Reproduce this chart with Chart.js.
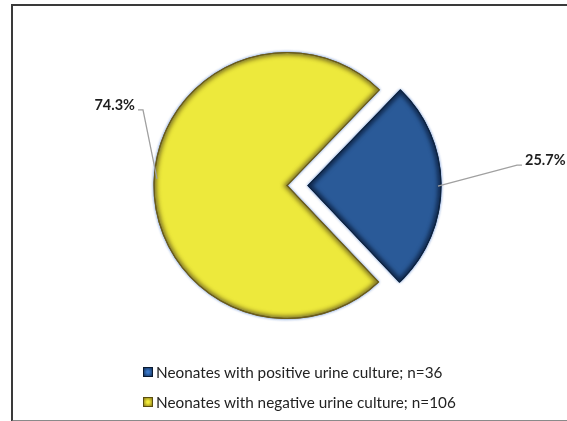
<!DOCTYPE html>
<html>
<head>
<meta charset="utf-8">
<script src="https://cdn.jsdelivr.net/npm/chart.js@4/dist/chart.umd.min.js"></script>
<style>
  html, body { margin: 0; padding: 0; background: #fff; }
  #wrap { position: relative; width: 567px; height: 421px; overflow: hidden; }
  #frame {
    position: absolute; left: 11px; top: 4px; width: 600px; height: 414px;
    border-left: 2px solid #3a3a3a; border-top: 2px solid #3a3a3a; border-bottom: 2px solid #8a8a8a;
    pointer-events: none;
  }
  canvas { position: absolute; left: 0; top: 0; }
  #legend {
    position: absolute; left: 143px; top: 357px;
    font-family: Lato, "Open Sans", sans-serif; font-size: 15.3px; color: #222;
  }
  .item { display: flex; align-items: center; height: 30px; }
  .swatch { width: 10px; height: 10px; margin-right: 3px; box-sizing: border-box; border: 1px solid; }
</style>
</head>
<body>
<div id="wrap">
  <canvas id="c" width="567" height="421"></canvas>
  <div id="frame"></div>
  <div id="legend"></div>
</div>
<script>
// Share of each group (percent) and group sizes
const groups = ['Neonates with positive urine culture', 'Neonates with negative urine culture'];
const counts = [36, 106];
const shares = [25.7, 74.3];
const pctLabels = ['25.7%', '74.3%'];

const fills = ['#2a5a98', '#ede93c'];
const edges = ['#0e2440', '#6b5c1c'];

// Legend rows
const legend = document.getElementById('legend');
groups.forEach((g, i) => {
  const row = document.createElement('div');
  row.className = 'item';
  const sw = document.createElement('span');
  sw.className = 'swatch';
  sw.style.background = i === 0
    ? 'radial-gradient(circle, #3b78c8 20%, #12305a 100%)'
    : 'radial-gradient(circle, #f2ec3a 20%, #8a7a18 100%)';
  sw.style.borderColor = i === 0 ? '#0b1a30' : '#5a4e10';
  row.appendChild(sw);
  const t = document.createElement('span');
  t.textContent = g + '; n=' + counts[i];
  row.appendChild(t);
  legend.appendChild(row);
});

function sectorPath(ctx, arc) {
  const off = (arc.options.offset || 0) / 4;
  const mid = (arc.startAngle + arc.endAngle) / 2;
  const cx = arc.x + Math.cos(mid) * off;
  const cy = arc.y + Math.sin(mid) * off;
  ctx.beginPath();
  ctx.moveTo(cx, cy);
  ctx.arc(cx, cy, arc.outerRadius, arc.startAngle, arc.endAngle);
  ctx.closePath();
  return { cx, cy, mid };
}

// Soft outer glow while the slices are painted, then an inner bevel
const glow = {
  id: 'glow',
  beforeDatasetsDraw(chart) {
    const ctx = chart.ctx;
    ctx.save();
    ctx.shadowColor = 'rgba(60,110,200,0.85)';
    ctx.shadowBlur = 3;
  },
  afterDatasetsDraw(chart) {
    const ctx = chart.ctx;
    ctx.restore();
    const arcs = chart.getDatasetMeta(0).data;
    arcs.forEach((arc, i) => {
      ctx.save();
      sectorPath(ctx, arc);
      ctx.clip();
      ctx.filter = 'blur(2px)';
      ctx.lineWidth = 6;
      ctx.strokeStyle = i === 0 ? 'rgba(5,20,45,0.75)' : 'rgba(90,70,10,0.6)';
      sectorPath(ctx, arc);
      ctx.stroke();
      ctx.restore();
      ctx.save();
      ctx.lineWidth = 1.2;
      ctx.strokeStyle = edges[i];
      sectorPath(ctx, arc);
      ctx.stroke();
      ctx.restore();
    });
  }
};

// Percentage labels with leader lines
const leaders = [
  { dx: 79, dy: -21, side: 1 },
  { dx: -14, dy: -69, side: -1 }
];
const pctLabelPlugin = {
  id: 'pctLabels',
  afterDraw(chart) {
    const ctx = chart.ctx;
    const arcs = chart.getDatasetMeta(0).data;
    arcs.forEach((arc, i) => {
      const off = (arc.options.offset || 0) / 4;
      const mid = (arc.startAngle + arc.endAngle) / 2;
      const ex = arc.x + Math.cos(mid) * (off + arc.outerRadius - 3);
      const ey = arc.y + Math.sin(mid) * (off + arc.outerRadius - 3) - (i === 1 ? 6 : 0);
      const L = leaders[i];
      const bx = ex + L.dx, by = ey + L.dy;
      const tx = bx + L.side * 5;
      ctx.save();
      ctx.strokeStyle = '#a0a0a0';
      ctx.lineWidth = 1.3;
      ctx.beginPath();
      ctx.moveTo(ex, ey);
      ctx.lineTo(bx, by);
      ctx.lineTo(tx, by);
      ctx.stroke();
      ctx.font = 'bold 14.5px Lato, "Open Sans", sans-serif';
      ctx.fillStyle = '#1e1e1e';
      ctx.textBaseline = 'middle';
      ctx.textAlign = L.side > 0 ? 'left' : 'right';
      ctx.fillText(pctLabels[i], tx + L.side * 3, by - 5);
      ctx.restore();
    });
  }
};

new Chart(document.getElementById('c'), {
  type: 'pie',
  data: {
    labels: groups,
    datasets: [{
      data: shares,
      backgroundColor: fills,
      borderColor: edges,
      borderWidth: 1,
      offset: [84, 0]
    }]
  },
  options: {
    responsive: false,
    animation: false,
    rotation: 44,
    radius: 133,
    layout: { padding: { left: 7, right: 0, top: 0, bottom: 50 } },
    plugins: {
      legend: { display: false },
      tooltip: { enabled: false }
    }
  },
  plugins: [glow, pctLabelPlugin]
});
</script>
</body>
</html>
